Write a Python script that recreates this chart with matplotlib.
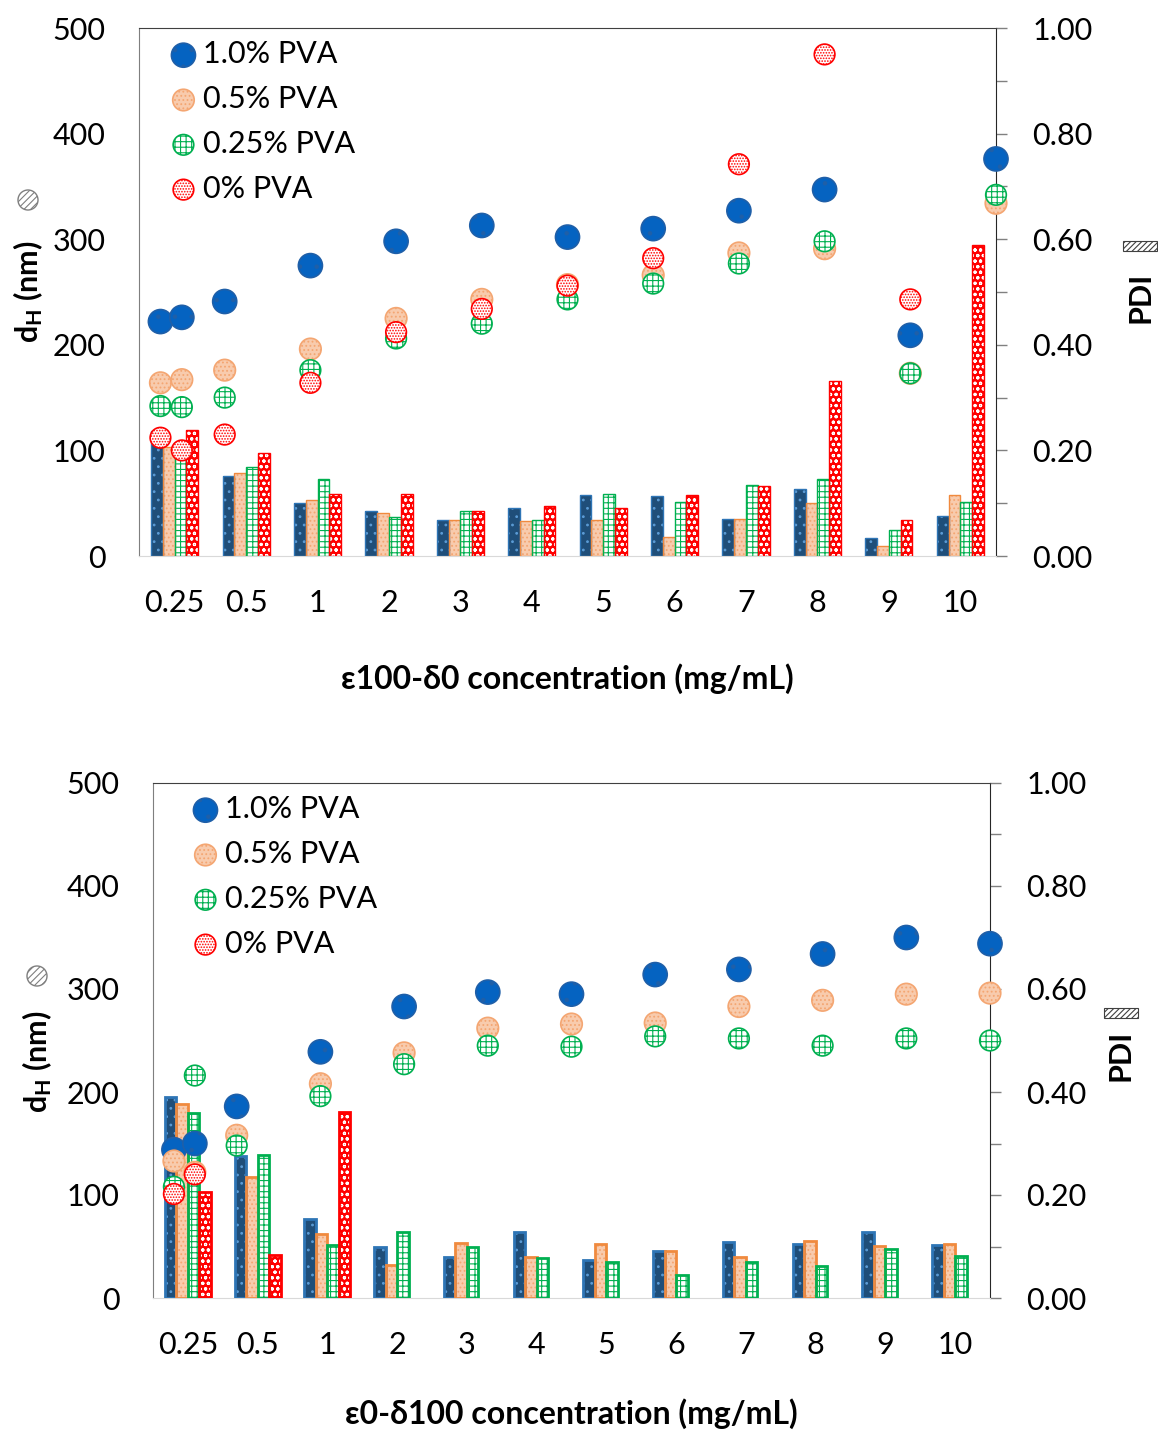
import numpy as np
import matplotlib
matplotlib.use('Agg')
from matplotlib import pyplot as plt
from matplotlib.patches import Ellipse, Rectangle
from matplotlib.ticker import MultipleLocator, FormatStrFormatter

plt.rcParams['font.family'] = ['Lato', 'DejaVu Sans']
plt.rcParams['mathtext.fontset'] = 'custom'
plt.rcParams['mathtext.rm'] = 'Lato'
plt.rcParams['mathtext.bf'] = 'Lato:bold'
plt.rcParams['hatch.linewidth'] = 0.8

# ---------------- data ----------------
categories = ['0.25', '0.5', '1', '2', '3', '4', '5', '6', '7', '8', '9', '10']
conc = [0.25, 0.5, 1, 2, 3, 4, 5, 6, 7, 8, 9, 10]
series_names = ['1.0% PVA', '0.5% PVA', '0.25% PVA', '0% PVA']

# top panel: e100-d0
top_dh_10 = [222, 226, 241, 275, 298, 313, 302, 310, 327, 347, 209, 376]
top_dh_05 = [164, 167, 176, 196, 225, 243, 257, 266, 287, 291, 173, 334]
top_dh_025 = [142, 141, 150, 176, 206, 220, 243, 258, 277, 298, 173, 342]
top_dh_0 = [112, 100, 115, 164, 212, 234, 256, 282, 371, 475, 243, np.nan]

top_pdi_10 = [0.236, 0.152, 0.101, 0.086, 0.068, 0.091, 0.115, 0.114, 0.070, 0.127, 0.034, 0.076]
top_pdi_05 = [0.206, 0.157, 0.107, 0.082, 0.069, 0.066, 0.068, 0.036, 0.070, 0.100, 0.018, 0.116]
top_pdi_025 = [0.190, 0.169, 0.145, 0.074, 0.086, 0.069, 0.118, 0.103, 0.135, 0.146, 0.049, 0.103]
top_pdi_0 = [0.238, 0.196, 0.117, 0.118, 0.086, 0.095, 0.090, 0.115, 0.133, 0.331, 0.068, 0.589]

# bottom panel: e0-d100
bot_dh_10 = [144, 150, 186, 239, 283, 297, 295, 314, 319, 334, 350, 344]
bot_dh_05 = [133, 122, 158, 208, 238, 262, 266, 267, 283, 289, 295, 296]
bot_dh_025 = [108, 216, 148, 196, 227, 245, 244, 254, 252, 245, 252, 250]
bot_dh_0 = [101, 120, np.nan, np.nan, np.nan, np.nan, np.nan, np.nan, np.nan, np.nan, np.nan, np.nan]

bot_pdi_10 = [0.390, 0.275, 0.153, 0.099, 0.080, 0.129, 0.074, 0.092, 0.109, 0.105, 0.129, 0.102]
bot_pdi_05 = [0.377, 0.235, 0.124, 0.065, 0.107, 0.079, 0.104, 0.092, 0.080, 0.111, 0.101, 0.105]
bot_pdi_025 = [0.359, 0.278, 0.102, 0.129, 0.099, 0.078, 0.070, 0.044, 0.070, 0.062, 0.095, 0.082]
bot_pdi_0 = [0.206, 0.084, 0.361, np.nan, np.nan, np.nan, np.nan, np.nan, np.nan, np.nan, np.nan, np.nan]

# ---------------- styles ----------------
# (bar face, bar hatch colour, bar edge, hatch)
bar_styles = [
    ('#1F4E79', '#5B9BD5', '#2E75B6', '..'),
    ('#F8CBAD', '#F4A672', '#F08A3E', '....'),
    ('white', '#00B050', '#00B050', '+++'),
    ('#FF0000', 'white', '#FF0000', 'ooo'),
]
# (marker face, marker edge/hatch, hatch, size)
dot_styles = [
    ('#0563C1', '#1F5FA8', '.', 300),
    ('#F8CBAD', '#F4A672', '....', 240),
    ('white', '#00B050', '+++', 220),
    ('white', '#FF0000', '......', 220),
]

W, H = 1158, 1434


def draw_panel(fig, rect, dh, pdi, xlabel, bar_lw, leg_x, xlab_pad):
    ax = fig.add_axes(rect)  # bars, PDI on right
    n = len(categories)
    x = np.arange(n)
    bw = 0.165
    for i, vals in enumerate(pdi):
        fc, hc, ec, h = bar_styles[i]
        pos = x + (i - 1.5) * bw
        ax.bar(pos, vals, bw, facecolor=fc, edgecolor=hc, hatch=h, linewidth=0, zorder=2)
        ax.bar(pos, vals, bw, facecolor='none', edgecolor=ec, linewidth=bar_lw, zorder=3)
    ax.set_xlim(-0.5, n - 0.5)
    ax.set_ylim(0, 1)
    ax.set_xticks(x)
    ax.set_xticklabels(categories)
    ax.tick_params(axis='x', length=0, pad=24, labelsize=22)
    ax.yaxis.tick_right()
    ax.yaxis.set_major_locator(MultipleLocator(0.2))
    ax.yaxis.set_minor_locator(MultipleLocator(0.1))
    ax.yaxis.set_major_formatter(FormatStrFormatter('%.2f'))
    ax.tick_params(axis='y', which='both', direction='out', length=8, width=1, color='#808080',
                   labelsize=22, pad=18)
    ax.spines['bottom'].set_color('#D9D9D9')
    ax.spines['right'].set_color('#262626')
    ax.spines['left'].set_color('#7F7F7F')
    ax.spines['top'].set_color('#404040')
    ax.set_xlabel(xlabel, fontsize=23, fontweight='bold', labelpad=xlab_pad)

    ax2 = fig.add_axes(rect)  # dH scatter on numeric x axis
    ax2.patch.set_alpha(0)
    handles = []
    for i, vals in enumerate(dh):
        fc, ec, h, s = dot_styles[i]
        sc = ax2.scatter(conc, vals, s=s, facecolor=fc, edgecolor=ec, hatch=h,
                         linewidth=1.2, zorder=4, clip_on=False, label=series_names[i])
        handles.append(sc)
    ax2.set_xlim(0, 10)
    ax2.set_ylim(0, 500)
    ax2.set_xticks([])
    ax2.yaxis.set_major_locator(MultipleLocator(100))
    ax2.tick_params(axis='y', length=0, labelsize=22, pad=24)
    for sp in ax2.spines.values():
        sp.set_visible(False)
    ax2.legend(handles=handles, loc='upper left', bbox_to_anchor=(leg_x, 1.0), frameon=False,
               fontsize=22, handletextpad=0.1, labelspacing=0.55, handlelength=1.1,
               borderaxespad=0)
    return ax, ax2


fig = plt.figure(figsize=(W / 100, H / 100), dpi=100)

# top panel
draw_panel(fig, [139 / W, 1 - 556 / H, 857 / W, 528 / H],
           [top_dh_10, top_dh_05, top_dh_025, top_dh_0],
           [top_pdi_10, top_pdi_05, top_pdi_025, top_pdi_0],
           'ε100-δ0 concentration (mg/mL)', 1.0, 0.018, 33)
# bottom panel
draw_panel(fig, [153 / W, 1 - 1298 / H, 837 / W, 515 / H],
           [bot_dh_10, bot_dh_05, bot_dh_025, bot_dh_0],
           [bot_pdi_10, bot_pdi_05, bot_pdi_025, bot_pdi_0],
           'ε0-δ100 concentration (mg/mL)', 2.0, 0.028, 28)


# axis titles with little key symbols
def side_labels(xl, yl_center, ycirc, xr, yr_center, yrect):
    fig.text(xl / W, 1 - yl_center / H, r'$\mathbf{d_H}$ (nm)', rotation=90, fontsize=22,
             fontweight='bold', ha='center', va='center')
    fig.add_artist(Ellipse((xl / W, 1 - ycirc / H), 20 / W, 20 / H, transform=fig.transFigure,
                           facecolor='white', edgecolor='#7F7F7F', hatch='/////', linewidth=1))
    fig.text(xr / W, 1 - yr_center / H, 'PDI', rotation=90, fontsize=22, fontweight='bold',
             ha='center', va='center')
    fig.add_artist(Rectangle(((xr - 17) / W, 1 - (yrect + 5) / H), 34 / W, 10 / H,
                             transform=fig.transFigure, facecolor='white', edgecolor='#404040',
                             hatch='//////', linewidth=0.8))


side_labels(28, 292, 200, 1140, 297, 246)
side_labels(37, 1062, 976, 1121, 1055, 1013)

fig.savefig('out.png', dpi=100)
